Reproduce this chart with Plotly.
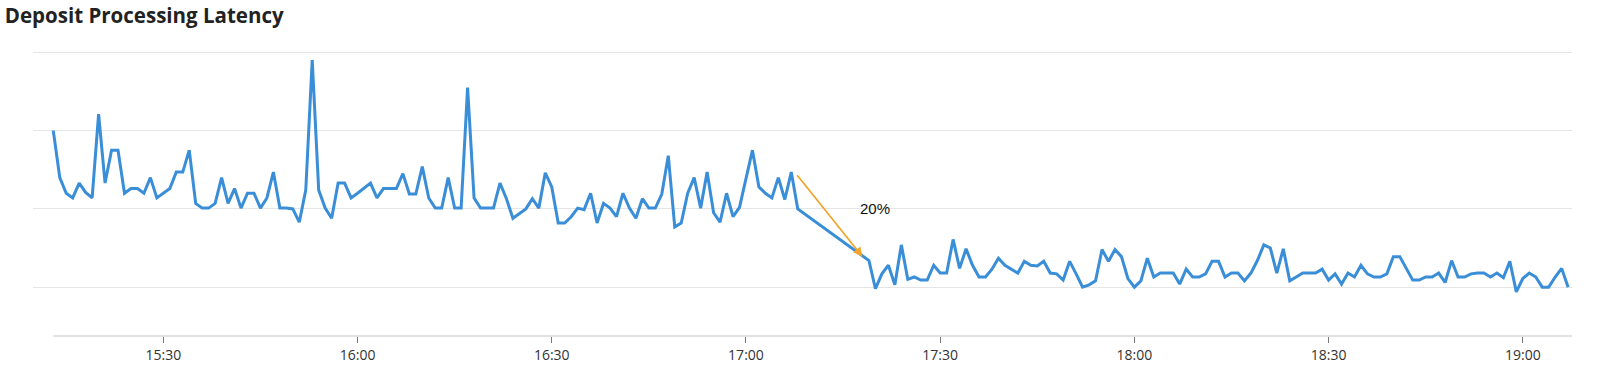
import pandas as pd
import plotly.graph_objects as go

# ---- data (one value per minute; data gap between 17:08 and 17:18) ----
seg1_start = "2024-01-01 15:13"
seg1_values = [
    3.00, 2.40, 2.20, 2.14, 2.33, 2.21, 2.14, 3.21, 2.33, 2.75,
    2.75, 2.20, 2.26, 2.26, 2.20, 2.40, 2.14, 2.20, 2.26, 2.47,
    2.47, 2.75, 2.07, 2.01, 2.01, 2.07, 2.40, 2.07, 2.26, 2.01,
    2.20, 2.20, 2.01, 2.14, 2.47, 2.01, 2.01, 2.00, 1.83, 2.24,
    3.90, 2.24, 2.01, 1.88, 2.33, 2.33, 2.14, 2.20, 2.26, 2.33,
    2.14, 2.26, 2.26, 2.26, 2.45, 2.19, 2.19, 2.54, 2.14, 2.01,
    2.01, 2.40, 2.01, 2.01, 3.55, 2.14, 2.01, 2.01, 2.01, 2.33,
    2.13, 1.88, 1.94, 2.00, 2.13, 2.01, 2.46, 2.28, 1.82, 1.82,
    1.90, 2.01, 1.99, 2.20, 1.82, 2.07, 2.01, 1.90, 2.20, 2.01,
    1.88, 2.13, 2.01, 2.01, 2.19, 2.68, 1.77, 1.82, 2.20, 2.40,
    2.01, 2.47, 1.95, 1.83, 2.20, 1.90, 2.02, 2.38, 2.75, 2.28,
    2.20, 2.14, 2.40, 2.12, 2.47, 2.00,
]
seg2_start = "2024-01-01 17:18"
seg2_values = [
    1.39, 1.34, 0.98, 1.17, 1.28, 1.03, 1.54, 1.10, 1.13, 1.09,
    1.09, 1.28, 1.18, 1.18, 1.61, 1.24, 1.49, 1.28, 1.13, 1.13,
    1.23, 1.37, 1.28, 1.23, 1.18, 1.33, 1.28, 1.27, 1.33, 1.18,
    1.17, 1.09, 1.33, 1.17, 1.00, 1.03, 1.08, 1.48, 1.33, 1.48,
    1.39, 1.11, 1.00, 1.08, 1.37, 1.13, 1.18, 1.18, 1.18, 1.04,
    1.23, 1.13, 1.13, 1.17, 1.33, 1.33, 1.13, 1.18, 1.18, 1.08,
    1.18, 1.34, 1.54, 1.50, 1.18, 1.49, 1.08, 1.13, 1.18, 1.18,
    1.18, 1.23, 1.09, 1.17, 1.04, 1.18, 1.13, 1.28, 1.17, 1.13,
    1.13, 1.17, 1.39, 1.39, 1.24, 1.09, 1.09, 1.13, 1.13, 1.18,
    1.06, 1.34, 1.13, 1.13, 1.17, 1.18, 1.18, 1.13, 1.18, 1.12,
    1.33, 0.94, 1.11, 1.18, 1.13, 1.00, 1.00, 1.13, 1.24, 1.00,
]
title_text = "Deposit Processing Latency"
change_label = "20%"
arrow_tail = ("2024-01-01 17:07:44", 2.45)
arrow_head = ("2024-01-01 17:18:00", 1.39)
label_pos = ("2024-01-01 17:20:00", 2.00)
x_range = ["2024-01-01 15:09:52", "2024-01-01 19:07:36"]
y_range = [0.376, 4.03]

times = list(pd.date_range(seg1_start, periods=len(seg1_values), freq="min")) + \
        list(pd.date_range(seg2_start, periods=len(seg2_values), freq="min"))
values = seg1_values + seg2_values

fig = go.Figure()
fig.add_trace(go.Scatter(
    x=times, y=values, mode="lines",
    line=dict(color="#3a8ed8", width=3),
    hoverinfo="skip", showlegend=False,
))

# bottom axis line (starts where data starts)
fig.add_shape(type="line", xref="x", yref="paper",
              x0=times[0], x1=x_range[1], y0=0, y1=0,
              line=dict(color="#e2e2e2", width=2), layer="below")

fig.add_annotation(
    x=arrow_head[0], y=arrow_head[1], ax=arrow_tail[0], ay=arrow_tail[1],
    xref="x", yref="y", axref="x", ayref="y",
    text="", showarrow=True, arrowhead=2, arrowsize=1.1, arrowwidth=1.7,
    arrowcolor="#f0a42a", standoff=0, startstandoff=0,
)
fig.add_annotation(
    x=label_pos[0], y=label_pos[1], xref="x", yref="y",
    text=change_label, showarrow=False,
    font=dict(family="Liberation Sans, Arial, sans-serif", size=15, color="#111111"),
)

fig.update_layout(
    width=1600, height=383,
    margin=dict(l=33, r=28, t=50, b=47),
    paper_bgcolor="white", plot_bgcolor="white",
    title=dict(text="<b>" + title_text + "</b>", xref="container", yref="container",
               x=0.003, xanchor="left", y=0.958, yanchor="middle",
               font=dict(family="Open Sans, Noto Sans, sans-serif", size=20.5, color="#222222")),
    xaxis=dict(type="date", range=x_range, tickformat="%H:%M",
               dtick=30 * 60 * 1000, tick0="2024-01-01 15:30",
               ticks="outside", ticklen=6, tickwidth=1, tickcolor="#777777",
               showgrid=False, showline=False, zeroline=False,
               tickfont=dict(family="Open Sans, Noto Sans, sans-serif", size=14, color="#333333")),
    yaxis=dict(range=y_range, tick0=0, dtick=1, showticklabels=False,
               showgrid=True, gridcolor="#e5e5e5", gridwidth=1.2,
               zeroline=False, showline=False, ticks=""),
)

fig.write_html("out.html")
